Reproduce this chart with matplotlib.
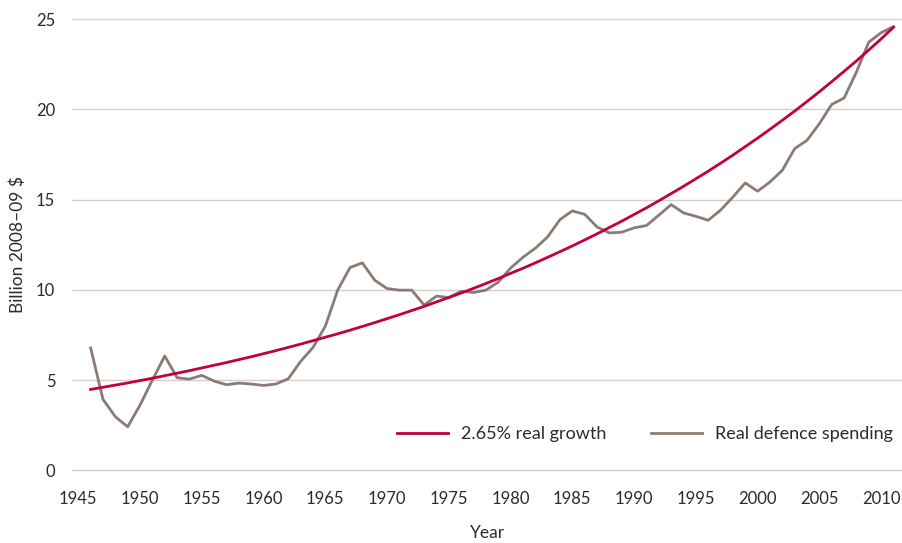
import numpy as np
import matplotlib
matplotlib.use("Agg")
import matplotlib.pyplot as plt

plt.rcParams["font.family"] = ["Lato", "DejaVu Sans"]

# financial years (ending)
years = list(range(1946, 2012))

real_spending = [
    6.78, 3.93, 2.97, 2.41, 3.61, 5.00, 6.33, 5.13, 5.05, 5.26,
    4.94, 4.74, 4.83, 4.78, 4.70, 4.78, 5.07, 6.03, 6.80, 7.98,
    9.98, 11.23, 11.49, 10.53, 10.07, 9.98, 9.98, 9.15, 9.65, 9.57,
    9.92, 9.85, 9.98, 10.42, 11.20, 11.80, 12.30, 12.93, 13.89, 14.37,
    14.18, 13.48, 13.15, 13.19, 13.43, 13.56, 14.13, 14.72, 14.26, 14.07,
    13.85, 14.41, 15.14, 15.92, 15.46, 15.97, 16.62, 17.82, 18.28, 19.20,
    20.27, 20.62, 22.06, 23.72, 24.24, 24.58
]

growth_path = [
    4.48, 4.60, 4.72, 4.84, 4.97, 5.10, 5.24, 5.38, 5.52, 5.67,
    5.82, 5.97, 6.13, 6.29, 6.46, 6.63, 6.81, 6.99, 7.18, 7.37,
    7.56, 7.76, 7.97, 8.18, 8.40, 8.62, 8.85, 9.08, 9.33, 9.57,
    9.82, 10.08, 10.35, 10.62, 10.91, 11.19, 11.49, 11.80, 12.11, 12.43,
    12.76, 13.10, 13.45, 13.80, 14.17, 14.54, 14.93, 15.33, 15.73, 16.15,
    16.57, 17.01, 17.46, 17.93, 18.40, 18.89, 19.39, 19.90, 20.43, 20.97,
    21.53, 22.10, 22.68, 23.28, 23.90, 24.54
]

x_ticks = list(range(1945, 2011, 5))
y_ticks = [0, 5, 10, 15, 20, 25]

RED = "#C3003B"
GREY = "#8A7C74"
GRID = "#D8CEC9"
TEXT = "#2B2B2B"

fig = plt.figure(figsize=(9.02, 5.43), dpi=100)
ax = fig.add_axes([0.0798, 0.1339, 0.9202, 0.8311])

# horizontal gridlines
for v in y_ticks:
    ax.axhline(v, color=GRID, lw=1.0, zorder=0, clip_on=False)

ax.plot(years, growth_path, color=RED, lw=2.0,
        label="2.65% real growth", zorder=3)
ax.plot(years, real_spending, color=GREY, lw=2.0,
        label="Real defence spending", zorder=2)

ax.set_xlim(1944.49, 2011.69)
ax.set_ylim(0, 25)
ax.set_xticks(x_ticks)
ax.set_yticks(y_ticks)

for s in ax.spines.values():
    s.set_visible(False)

ax.tick_params(axis="both", length=0, labelsize=12, colors=TEXT)
ax.tick_params(axis="x", pad=15)
ax.tick_params(axis="y", pad=12)

# axis titles placed as figure text
fig.text(0.540, 0.0175, "Year", ha="center", va="center",
         fontsize=12.5, color=TEXT)
fig.text(0.02, 0.55, "Billion 2008\u201309 $", rotation=90,
         ha="center", va="center", fontsize=12.5, color=TEXT)

ax.legend(
    loc="center left",
    bbox_to_anchor=(0.3916, 0.0804),
    ncol=2,
    frameon=False,
    fontsize=13,
    borderpad=0,
    borderaxespad=0,
    handlelength=2.8,
    handletextpad=0.72,
    columnspacing=2.5,
    labelcolor=TEXT
)

fig.savefig("out.png", dpi=100)
